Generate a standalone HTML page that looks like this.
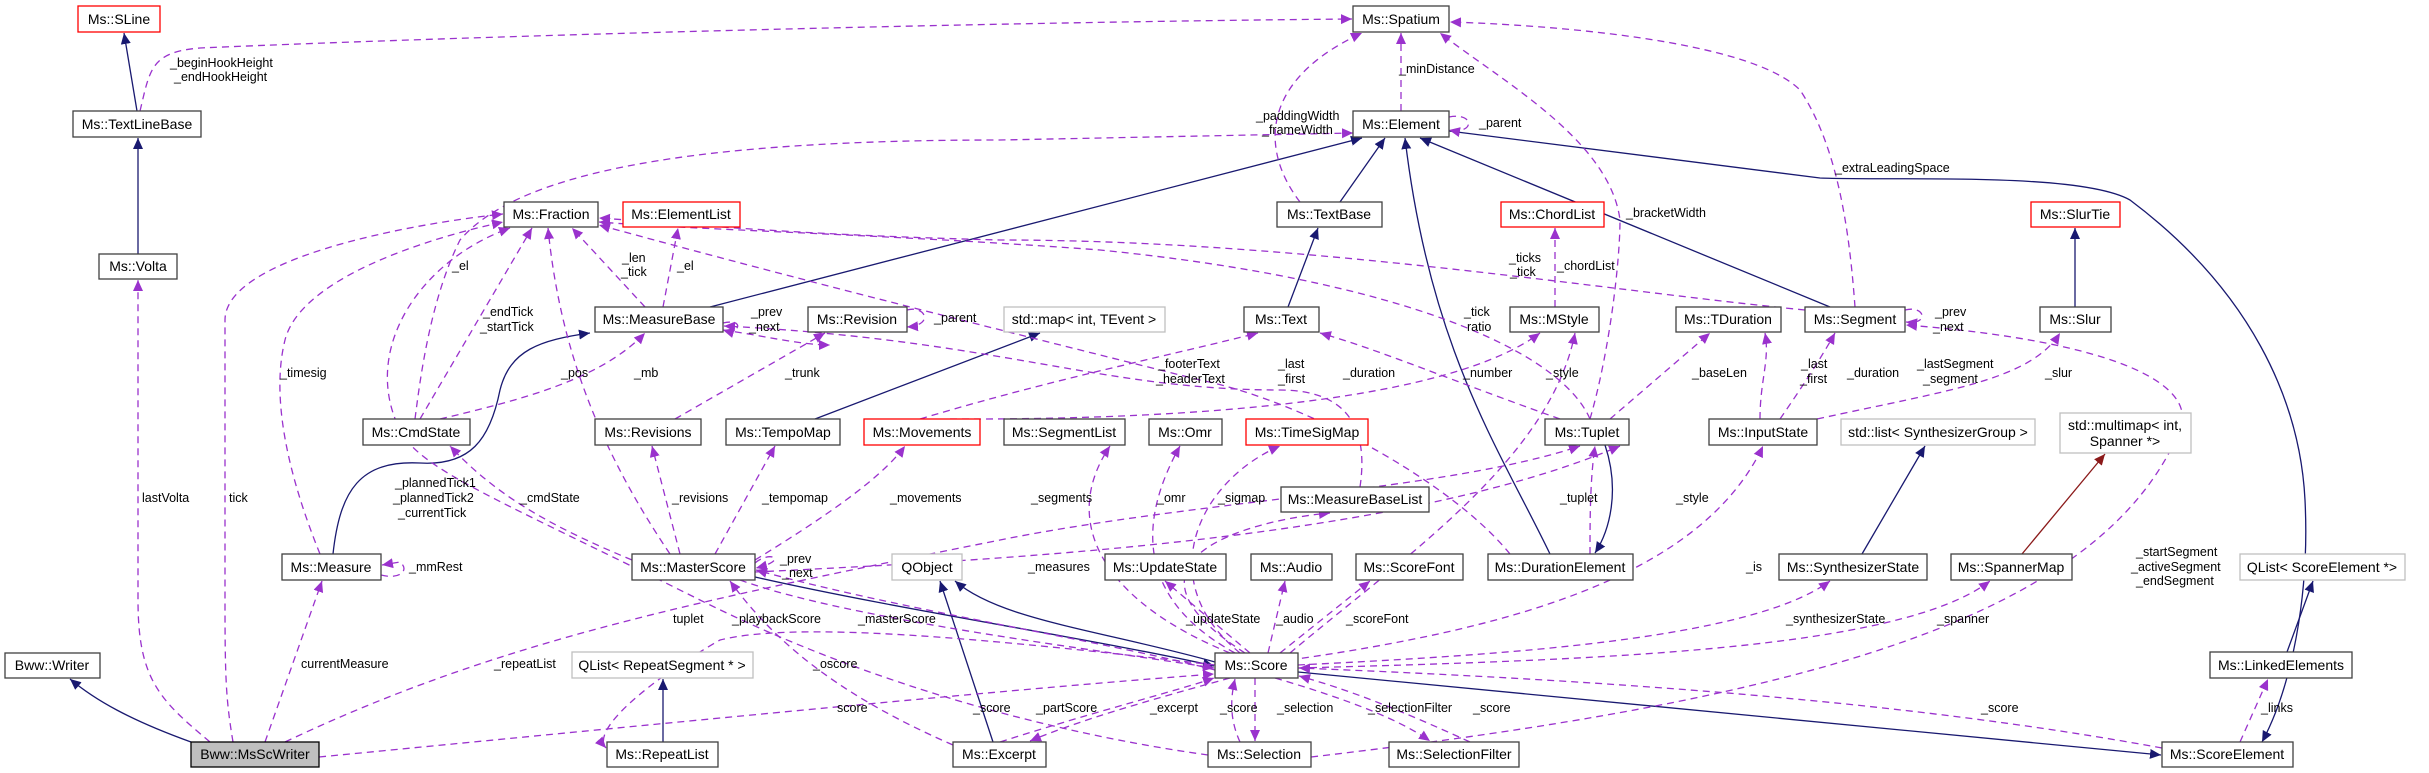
<!DOCTYPE html>
<html><head><meta charset="utf-8"><style>
html,body{margin:0;padding:0;background:#fff;}
svg{display:block;}
text{font-family:"Liberation Sans",sans-serif;}
.n text{font-size:14px;fill:#000;}
.l{font-size:12.5px;fill:#000;}
.d{fill:none;stroke:#9a32cd;stroke-width:1.3;stroke-dasharray:7,5;marker-end:url(#ap);}
.s{fill:none;stroke:#191970;stroke-width:1.3;marker-end:url(#ab);}
</style></head><body>
<svg width="2429" height="773" viewBox="0 0 2429 773" xmlns="http://www.w3.org/2000/svg">
<defs>
<marker id="ap" markerUnits="userSpaceOnUse" markerWidth="12" markerHeight="12" refX="11" refY="6" orient="auto"><path d="M0,1 L11,6 L0,11 z" fill="#9a32cd"/></marker>
<marker id="ab" markerUnits="userSpaceOnUse" markerWidth="12" markerHeight="12" refX="11" refY="6" orient="auto"><path d="M0,1 L11,6 L0,11 z" fill="#191970"/></marker>
<marker id="ar" markerUnits="userSpaceOnUse" markerWidth="12" markerHeight="12" refX="11" refY="6" orient="auto"><path d="M0,1 L11,6 L0,11 z" fill="#8b1a1a"/></marker>
</defs>

<!-- inheritance edges -->
<path class="s" d="M137,111 L124,33"/>
<path class="s" d="M138,254 L138,138"/>
<path class="s" d="M191,742 C130,720 95,700 70,679"/>
<path class="s" d="M710,307 L1362,138"/>
<path class="s" d="M1340,202 L1385,138"/>
<path class="s" d="M1288,307 L1318,228"/>
<path class="s" d="M1550,554 C1500,450 1430,350 1405,138"/>
<path class="s" d="M1830,307 L1420,138"/>
<path class="s" d="M1449,131 L1820,178 C1900,181 2080,172 2130,200 C2250,290 2300,400 2305,500 C2310,600 2290,690 2262,742"/>
<path class="s" d="M2075,307 L2075,228"/>
<path class="s" d="M1605,445 C1620,490 1610,530 1595,553"/>
<path class="s" d="M333,554 C340,490 360,460 420,463 C470,466 490,440 500,390 C510,350 540,340 590,333"/>
<path class="s" d="M815,419 L1040,333"/>
<path class="s" d="M755,577 C900,610 1100,640 1214,666"/>
<path class="s" d="M993,742 L940,581"/>
<path class="s" d="M1215,662 C1100,630 1000,620 955,581"/>
<path class="s" d="M1298,672 L2161,755"/>
<path class="s" d="M663,742 L663,679"/>
<path class="s" d="M1862,554 L1925,446"/>
<path d="M2022,554 L2105,454" fill="none" stroke="#8b1a1a" stroke-width="1.3" marker-end="url(#ar)"/>
<path class="s" d="M2287,652 L2313,581"/>

<!-- usage edges -->
<path class="d" d="M210,742 C160,700 138,680 138,600 L138,280"/>
<path class="d" d="M233,742 C226,700 225,680 225,600 L225,320 C225,260 400,225 503,214"/>
<path class="d" d="M265,742 L322,581"/>
<path class="d" d="M319,757 C700,720 1000,690 1214,674"/>
<path class="d" d="M285,742 C500,640 700,600 1000,540 C1200,500 1450,490 1580,446"/>
<path class="d" d="M320,554 C290,480 270,400 285,340 C300,280 420,240 503,222"/>
<path class="d" d="M381,575 C400,580 410,570 400,562 L382,565"/>
<path class="d" d="M420,419 L532,228"/>
<path class="d" d="M415,419 C420,380 430,300 460,240 C520,170 700,140 1000,140 L1353,133"/>
<path class="d" d="M632,560 C560,530 500,500 450,446"/>
<path class="d" d="M680,554 L652,446"/>
<path class="d" d="M715,554 L775,446"/>
<path class="d" d="M755,560 C820,520 880,480 905,446"/>
<path class="d" d="M670,554 C600,450 560,350 548,228"/>
<path class="d" d="M645,307 L572,228"/>
<path class="d" d="M663,307 L678,228"/>
<path class="d" d="M675,419 L825,333"/>
<path class="d" d="M907,310 C925,305 935,325 907,327"/>
<path class="d" d="M440,419 C520,400 600,380 645,333"/>
<path class="d" d="M723,323 C745,318 740,335 723,330"/>
<path class="d" d="M723,330 C760,335 800,345 830,345"/>
<path class="d" d="M140,111 C150,70 150,52 200,48 C500,35 1000,22 1352,19"/>
<path class="d" d="M1300,202 C1260,150 1260,80 1362,33"/>
<path class="d" d="M1401,111 L1401,33"/>
<path class="d" d="M1855,307 C1850,240 1840,150 1800,90 C1750,40 1550,25 1450,22"/>
<path class="d" d="M1590,419 C1610,350 1620,260 1620,220 C1610,140 1500,80 1440,33"/>
<path class="d" d="M1449,117 C1475,112 1475,135 1449,130"/>
<path class="d" d="M1555,307 L1555,228"/>
<path class="d" d="M1805,310 C1600,290 1300,240 1000,240 C800,235 700,225 599,218"/>
<path class="d" d="M1590,419 C1560,350 1400,280 1100,250 C900,235 700,230 599,222"/>
<path class="d" d="M920,419 C1050,380 1150,360 1258,333"/>
<path class="d" d="M1560,419 C1450,380 1380,350 1320,333"/>
<path class="d" d="M1510,554 C1450,480 1300,400 1200,380 C1000,330 800,280 599,225"/>
<path class="d" d="M1360,487 C1370,420 1340,390 1280,390 C1100,390 1000,340 724,326"/>
<path class="d" d="M1610,419 L1710,333"/>
<path class="d" d="M950,419 C1200,420 1450,400 1540,333"/>
<path class="d" d="M1290,653 C1400,560 1550,460 1575,333"/>
<path class="d" d="M1780,419 C1800,390 1820,360 1835,333"/>
<path class="d" d="M1760,419 C1760,380 1770,360 1765,333"/>
<path class="d" d="M1817,419 C1950,390 2030,380 2060,333"/>
<path class="d" d="M1290,660 C1500,630 1700,580 1763,446"/>
<path class="d" d="M1298,665 C1500,655 1750,640 1830,581"/>
<path class="d" d="M1298,668 C1600,660 1900,650 1990,581"/>
<path class="d" d="M1311,757 C1800,700 2100,620 2180,430 C2200,380 2100,340 1906,325"/>
<path class="d" d="M1905,310 C1925,305 1930,325 1906,322"/>
<path class="d" d="M2162,748 C1900,700 1600,680 1299,668"/>
<path class="d" d="M2240,742 L2268,679"/>
<path class="d" d="M1250,653 L1165,581"/>
<path class="d" d="M1268,653 L1285,581"/>
<path class="d" d="M1280,653 L1370,581"/>
<path class="d" d="M1255,678 L1255,741"/>
<path class="d" d="M1275,678 C1350,700 1400,720 1430,741"/>
<path class="d" d="M1230,678 C1150,700 1080,720 1030,741"/>
<path class="d" d="M1000,742 C1100,710 1180,690 1214,678"/>
<path class="d" d="M1240,742 C1230,720 1230,700 1235,679"/>
<path class="d" d="M1470,742 C1400,710 1350,690 1299,676"/>
<path class="d" d="M1215,670 C1100,640 900,610 756,570"/>
<path class="d" d="M740,580 C850,620 1100,650 1214,668"/>
<path class="d" d="M1215,665 C1000,640 800,620 720,640 C650,680 590,730 606,748"/>
<path class="d" d="M953,745 C850,700 780,650 730,581"/>
<path class="d" d="M1208,755 C1100,740 900,700 700,600 C500,500 420,470 400,430 C360,350 420,260 510,228"/>
<path class="d" d="M1230,653 C1100,600 1060,520 1110,446"/>
<path class="d" d="M1235,653 C1120,590 1150,500 1180,446"/>
<path class="d" d="M1240,653 C1150,580 1200,480 1280,446"/>
<path class="d" d="M1245,653 C1100,560 1250,520 1330,513"/>
<path class="d" d="M755,563 C770,550 790,560 756,568"/>
<path class="d" d="M755,572 C1000,560 1400,540 1620,446"/>
<path class="d" d="M1590,554 C1590,520 1590,480 1595,446"/>

<!-- nodes -->
<g class="n" stroke-width="1.3">
<rect x="78" y="6" width="82" height="26" fill="#fff" stroke="#ff0000"/><text x="119" y="24" text-anchor="middle">Ms::SLine</text>
<rect x="1353" y="6" width="96" height="26" fill="#fff" stroke="#404040"/><text x="1401" y="24" text-anchor="middle">Ms::Spatium</text>
<rect x="73" y="111" width="128" height="26" fill="#fff" stroke="#404040"/><text x="137" y="129" text-anchor="middle">Ms::TextLineBase</text>
<rect x="1353" y="111" width="96" height="26" fill="#fff" stroke="#404040"/><text x="1401" y="129" text-anchor="middle">Ms::Element</text>
<rect x="99" y="254" width="78" height="25" fill="#fff" stroke="#404040"/><text x="138" y="271" text-anchor="middle">Ms::Volta</text>
<rect x="504" y="202" width="94" height="25" fill="#fff" stroke="#404040"/><text x="551" y="219" text-anchor="middle">Ms::Fraction</text>
<rect x="623" y="202" width="117" height="25" fill="#fff" stroke="#ff0000"/><text x="681" y="219" text-anchor="middle">Ms::ElementList</text>
<rect x="1277" y="202" width="105" height="25" fill="#fff" stroke="#404040"/><text x="1329" y="219" text-anchor="middle">Ms::TextBase</text>
<rect x="1501" y="202" width="103" height="25" fill="#fff" stroke="#ff0000"/><text x="1552" y="219" text-anchor="middle">Ms::ChordList</text>
<rect x="2031" y="202" width="89" height="25" fill="#fff" stroke="#ff0000"/><text x="2075" y="219" text-anchor="middle">Ms::SlurTie</text>
<rect x="595" y="307" width="128" height="25" fill="#fff" stroke="#404040"/><text x="659" y="324" text-anchor="middle">Ms::MeasureBase</text>
<rect x="808" y="307" width="99" height="25" fill="#fff" stroke="#404040"/><text x="857" y="324" text-anchor="middle">Ms::Revision</text>
<rect x="1004" y="307" width="161" height="25" fill="#fff" stroke="#bfbfbf"/><text x="1084" y="324" text-anchor="middle">std::map&lt; int, TEvent &gt;</text>
<rect x="1244" y="307" width="75" height="25" fill="#fff" stroke="#404040"/><text x="1281" y="324" text-anchor="middle">Ms::Text</text>
<rect x="1510" y="307" width="89" height="25" fill="#fff" stroke="#404040"/><text x="1554" y="324" text-anchor="middle">Ms::MStyle</text>
<rect x="1676" y="307" width="105" height="25" fill="#fff" stroke="#404040"/><text x="1728" y="324" text-anchor="middle">Ms::TDuration</text>
<rect x="1805" y="307" width="100" height="25" fill="#fff" stroke="#404040"/><text x="1855" y="324" text-anchor="middle">Ms::Segment</text>
<rect x="2040" y="307" width="71" height="25" fill="#fff" stroke="#404040"/><text x="2075" y="324" text-anchor="middle">Ms::Slur</text>
<rect x="363" y="419" width="107" height="26" fill="#fff" stroke="#404040"/><text x="416" y="437" text-anchor="middle">Ms::CmdState</text>
<rect x="595" y="419" width="106" height="26" fill="#fff" stroke="#404040"/><text x="648" y="437" text-anchor="middle">Ms::Revisions</text>
<rect x="726" y="419" width="114" height="26" fill="#fff" stroke="#404040"/><text x="783" y="437" text-anchor="middle">Ms::TempoMap</text>
<rect x="864" y="419" width="116" height="26" fill="#fff" stroke="#ff0000"/><text x="922" y="437" text-anchor="middle">Ms::Movements</text>
<rect x="1004" y="419" width="121" height="26" fill="#fff" stroke="#404040"/><text x="1064" y="437" text-anchor="middle">Ms::SegmentList</text>
<rect x="1149" y="419" width="73" height="26" fill="#fff" stroke="#404040"/><text x="1185" y="437" text-anchor="middle">Ms::Omr</text>
<rect x="1246" y="419" width="122" height="26" fill="#fff" stroke="#ff0000"/><text x="1307" y="437" text-anchor="middle">Ms::TimeSigMap</text>
<rect x="1545" y="419" width="84" height="26" fill="#fff" stroke="#404040"/><text x="1587" y="437" text-anchor="middle">Ms::Tuplet</text>
<rect x="1709" y="419" width="108" height="26" fill="#fff" stroke="#404040"/><text x="1763" y="437" text-anchor="middle">Ms::InputState</text>
<rect x="1841" y="419" width="194" height="26" fill="#fff" stroke="#bfbfbf"/><text x="1938" y="437" text-anchor="middle">std::list&lt; SynthesizerGroup &gt;</text>
<rect x="2060" y="413" width="131" height="40" fill="#fff" stroke="#bfbfbf"/><text x="2125" y="430" text-anchor="middle">std::multimap&lt; int,</text><text x="2125" y="446" text-anchor="middle">Spanner *&gt;</text>
<rect x="1281" y="487" width="148" height="25" fill="#fff" stroke="#404040"/><text x="1355" y="504" text-anchor="middle">Ms::MeasureBaseList</text>
<rect x="282" y="554" width="99" height="26" fill="#fff" stroke="#404040"/><text x="331" y="572" text-anchor="middle">Ms::Measure</text>
<rect x="632" y="554" width="123" height="26" fill="#fff" stroke="#404040"/><text x="693" y="572" text-anchor="middle">Ms::MasterScore</text>
<rect x="892" y="554" width="70" height="26" fill="#fff" stroke="#bfbfbf"/><text x="927" y="572" text-anchor="middle">QObject</text>
<rect x="1105" y="554" width="121" height="26" fill="#fff" stroke="#404040"/><text x="1165" y="572" text-anchor="middle">Ms::UpdateState</text>
<rect x="1251" y="554" width="81" height="26" fill="#fff" stroke="#404040"/><text x="1291" y="572" text-anchor="middle">Ms::Audio</text>
<rect x="1356" y="554" width="107" height="26" fill="#fff" stroke="#404040"/><text x="1409" y="572" text-anchor="middle">Ms::ScoreFont</text>
<rect x="1488" y="554" width="145" height="26" fill="#fff" stroke="#404040"/><text x="1560" y="572" text-anchor="middle">Ms::DurationElement</text>
<rect x="1779" y="554" width="148" height="26" fill="#fff" stroke="#404040"/><text x="1853" y="572" text-anchor="middle">Ms::SynthesizerState</text>
<rect x="1951" y="554" width="121" height="26" fill="#fff" stroke="#404040"/><text x="2011" y="572" text-anchor="middle">Ms::SpannerMap</text>
<rect x="2240" y="554" width="165" height="26" fill="#fff" stroke="#bfbfbf"/><text x="2322" y="572" text-anchor="middle">QList&lt; ScoreElement *&gt;</text>
<rect x="5" y="653" width="95" height="25" fill="#fff" stroke="#404040"/><text x="52" y="670" text-anchor="middle">Bww::Writer</text>
<rect x="572" y="652" width="181" height="26" fill="#fff" stroke="#bfbfbf"/><text x="662" y="670" text-anchor="middle">QList&lt; RepeatSegment * &gt;</text>
<rect x="1215" y="653" width="83" height="25" fill="#fff" stroke="#404040"/><text x="1256" y="670" text-anchor="middle">Ms::Score</text>
<rect x="2210" y="652" width="142" height="26" fill="#fff" stroke="#404040"/><text x="2281" y="670" text-anchor="middle">Ms::LinkedElements</text>
<rect x="191" y="742" width="128" height="25" fill="#bfbfbf" stroke="#000"/><text x="255" y="759" text-anchor="middle">Bww::MsScWriter</text>
<rect x="607" y="742" width="111" height="25" fill="#fff" stroke="#404040"/><text x="662" y="759" text-anchor="middle">Ms::RepeatList</text>
<rect x="953" y="742" width="93" height="25" fill="#fff" stroke="#404040"/><text x="999" y="759" text-anchor="middle">Ms::Excerpt</text>
<rect x="1208" y="742" width="103" height="25" fill="#fff" stroke="#404040"/><text x="1259" y="759" text-anchor="middle">Ms::Selection</text>
<rect x="1389" y="742" width="130" height="25" fill="#fff" stroke="#404040"/><text x="1454" y="759" text-anchor="middle">Ms::SelectionFilter</text>
<rect x="2162" y="742" width="131" height="25" fill="#fff" stroke="#404040"/><text x="2227" y="759" text-anchor="middle">Ms::ScoreElement</text>
</g>

<!-- edge labels -->
<g class="l">
<text x="170" y="67">_beginHookHeight</text><text x="174" y="81">_endHookHeight</text>
<text x="1399" y="73">_minDistance</text>
<text x="1256" y="120">_paddingWidth</text><text x="1262" y="134">_frameWidth</text>
<text x="1479" y="127">_parent</text>
<text x="1835" y="172">_extraLeadingSpace</text>
<text x="1626" y="217">_bracketWidth</text>
<text x="452" y="270">_el</text>
<text x="622" y="262">_len</text><text x="621" y="276">_tick</text>
<text x="677" y="270">_el</text>
<text x="1509" y="262">_ticks</text><text x="1510" y="276">_tick</text>
<text x="1557" y="270">_chordList</text>
<text x="483" y="316">_endTick</text><text x="480" y="331">_startTick</text>
<text x="751" y="316">_prev</text><text x="749" y="331">_next</text>
<text x="934" y="322">_parent</text>
<text x="1464" y="316">_tick</text><text x="1467" y="331">ratio</text>
<text x="1935" y="316">_prev</text><text x="1933" y="331">_next</text>
<text x="280" y="377">_timesig</text>
<text x="561" y="377">_pos</text>
<text x="634" y="377">_mb</text>
<text x="785" y="377">_trunk</text>
<text x="1158" y="368">_footerText</text><text x="1156" y="383">_headerText</text>
<text x="1278" y="368">_last</text><text x="1278" y="383">_first</text>
<text x="1343" y="377">_duration</text>
<text x="1463" y="377">_number</text>
<text x="1546" y="377">_style</text>
<text x="1692" y="377">_baseLen</text>
<text x="1801" y="368">_last</text><text x="1800" y="383">_first</text>
<text x="1847" y="377">_duration</text>
<text x="1917" y="368">_lastSegment</text><text x="1923" y="383">_segment</text>
<text x="2045" y="377">_slur</text>
<text x="395" y="487">_plannedTick1</text><text x="393" y="502">_plannedTick2</text><text x="398" y="517">_currentTick</text>
<text x="142" y="502">lastVolta</text>
<text x="229" y="502">tick</text>
<text x="520" y="502">_cmdState</text>
<text x="672" y="502">_revisions</text>
<text x="762" y="502">_tempomap</text>
<text x="890" y="502">_movements</text>
<text x="1031" y="502">_segments</text>
<text x="1157" y="502">_omr</text>
<text x="1218" y="502">_sigmap</text>
<text x="1560" y="502">_tuplet</text>
<text x="1676" y="502">_style</text>
<text x="2136" y="556">_startSegment</text><text x="2131" y="571">_activeSegment</text><text x="2136" y="585">_endSegment</text>
<text x="409" y="571">_mmRest</text>
<text x="780" y="563">_prev</text><text x="782" y="577">_next</text>
<text x="1028" y="571">_measures</text>
<text x="1746" y="571">_is</text>
<text x="673" y="623">tuplet</text>
<text x="732" y="623">_playbackScore</text>
<text x="858" y="623">_masterScore</text>
<text x="1186" y="623">_updateState</text>
<text x="1276" y="623">_audio</text>
<text x="1346" y="623">_scoreFont</text>
<text x="1786" y="623">_synthesizerState</text>
<text x="1937" y="623">_spanner</text>
<text x="301" y="668">currentMeasure</text>
<text x="494" y="668">_repeatList</text>
<text x="813" y="668">_oscore</text>
<text x="837" y="712">score</text>
<text x="973" y="712">_score</text>
<text x="1036" y="712">_partScore</text>
<text x="1150" y="712">_excerpt</text>
<text x="1220" y="712">_score</text>
<text x="1277" y="712">_selection</text>
<text x="1368" y="712">_selectionFilter</text>
<text x="1473" y="712">_score</text>
<text x="1981" y="712">_score</text>
<text x="2261" y="712">_links</text>
</g>
</svg>
</body></html>
